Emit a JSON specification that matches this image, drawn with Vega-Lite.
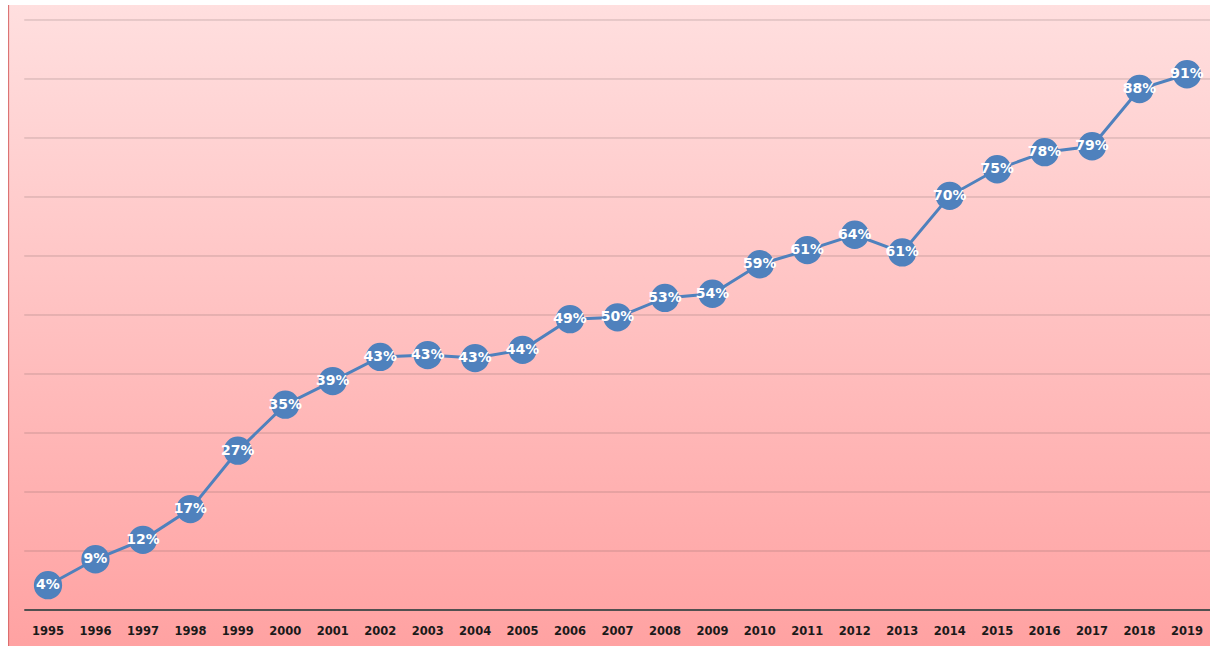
{
  "$schema": "https://vega.github.io/schema/vega-lite/v6.json",
  "autosize": "none",
  "width": 1202,
  "height": 641,
  "padding": {"left": 8, "top": 5, "right": 0, "bottom": 0},
  "background": "#FFFFFF",
  "config": {
    "view": {
      "stroke": null,
      "fill": {
        "gradient": "linear",
        "x1": 0, "y1": 0, "x2": 0, "y2": 1,
        "stops": [
          {"offset": 0, "color": "#FFDFDF"},
          {"offset": 1, "color": "#FFA2A2"}
        ]
      }
    }
  },
  "datasets": {
    "series": [
      {"year": 1995, "value": 4.2, "label": "4%"},
      {"year": 1996, "value": 8.6, "label": "9%"},
      {"year": 1997, "value": 11.9, "label": "12%"},
      {"year": 1998, "value": 17.1, "label": "17%"},
      {"year": 1999, "value": 27.0, "label": "27%"},
      {"year": 2000, "value": 34.8, "label": "35%"},
      {"year": 2001, "value": 38.8, "label": "39%"},
      {"year": 2002, "value": 42.9, "label": "43%"},
      {"year": 2003, "value": 43.2, "label": "43%"},
      {"year": 2004, "value": 42.7, "label": "43%"},
      {"year": 2005, "value": 44.1, "label": "44%"},
      {"year": 2006, "value": 49.3, "label": "49%"},
      {"year": 2007, "value": 49.6, "label": "50%"},
      {"year": 2008, "value": 52.9, "label": "53%"},
      {"year": 2009, "value": 53.6, "label": "54%"},
      {"year": 2010, "value": 58.6, "label": "59%"},
      {"year": 2011, "value": 61.0, "label": "61%"},
      {"year": 2012, "value": 63.6, "label": "64%"},
      {"year": 2013, "value": 60.6, "label": "61%"},
      {"year": 2014, "value": 70.2, "label": "70%"},
      {"year": 2015, "value": 74.7, "label": "75%"},
      {"year": 2016, "value": 77.6, "label": "78%"},
      {"year": 2017, "value": 78.6, "label": "79%"},
      {"year": 2018, "value": 88.3, "label": "88%"},
      {"year": 2019, "value": 90.8, "label": "91%"}
    ],
    "grid": [
      {"g": 10}, {"g": 20}, {"g": 30}, {"g": 40}, {"g": 50},
      {"g": 60}, {"g": 70}, {"g": 80}, {"g": 90}, {"g": 100}
    ]
  },
  "layer": [
    {
      "data": {"name": "grid"},
      "mark": {"type": "rule", "color": "#6A5A5A", "opacity": 0.32, "strokeWidth": 1},
      "encoding": {
        "x": {"datum": 1994.5, "type": "quantitative", "scale": {"domain": [1994.157, 2019.485], "nice": false, "zero": false}, "axis": null},
        "x2": {"datum": 2019.485},
        "y": {"field": "g", "type": "quantitative", "scale": {"domain": [-6.1, 102.54], "nice": false, "zero": false}, "axis": null}
      }
    },
    {
      "data": {"values": [{"g": 0}]},
      "mark": {"type": "rule", "color": "#505050", "strokeWidth": 2},
      "encoding": {
        "x": {"datum": 1994.5, "type": "quantitative"},
        "x2": {"datum": 2019.485},
        "y": {"field": "g", "type": "quantitative"}
      }
    },
    {
      "data": {"values": [{"g": -6.1, "g2": 102.54}]},
      "mark": {"type": "rule", "color": "#D86868", "strokeWidth": 1},
      "encoding": {
        "x": {"datum": 1994.17, "type": "quantitative"},
        "y": {"field": "g", "type": "quantitative"},
        "y2": {"field": "g2"}
      }
    },
    {
      "data": {"name": "series"},
      "mark": {"type": "line", "color": "#4F81BD", "strokeWidth": 3},
      "encoding": {
        "x": {"field": "year", "type": "quantitative"},
        "y": {"field": "value", "type": "quantitative"}
      }
    },
    {
      "data": {"name": "series"},
      "mark": {"type": "circle", "color": "#4F81BD", "opacity": 1, "size": 800},
      "encoding": {
        "x": {"field": "year", "type": "quantitative"},
        "y": {"field": "value", "type": "quantitative"}
      }
    },
    {
      "data": {"name": "series"},
      "mark": {"type": "text", "color": "#FFFFFF", "font": "DejaVu Sans", "fontWeight": "bold", "fontSize": 14, "align": "center", "baseline": "middle"},
      "encoding": {
        "x": {"field": "year", "type": "quantitative"},
        "y": {"field": "value", "type": "quantitative"},
        "text": {"field": "label"}
      }
    },
    {
      "data": {"name": "series"},
      "mark": {"type": "text", "color": "#1A1A1A", "font": "DejaVu Sans", "fontWeight": "bold", "fontSize": 11.5, "align": "center", "baseline": "middle"},
      "encoding": {
        "x": {"field": "year", "type": "quantitative"},
        "y": {"datum": -3.75, "type": "quantitative"},
        "text": {"field": "year", "type": "nominal"}
      }
    }
  ]
}
